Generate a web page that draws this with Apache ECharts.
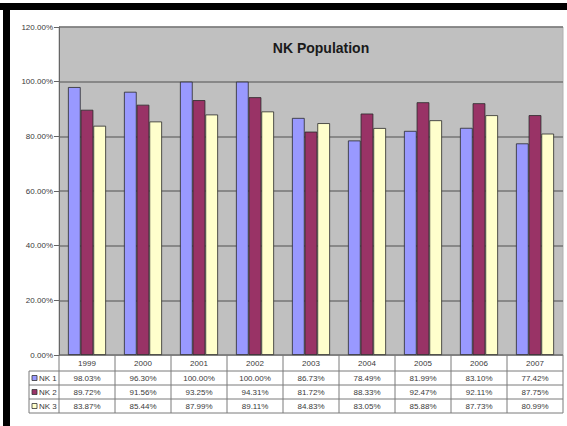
<!DOCTYPE html>
<html>
<head>
<meta charset="utf-8">
<script src="https://cdn.jsdelivr.net/npm/echarts@6/dist/echarts.min.js"></script>
<style>
  html, body { margin: 0; padding: 0; background: #fff; }
  #main { width: 567px; height: 426px; }
</style>
</head>
<body>
<div id="main"></div>
<script>
// Years along the category axis
const years = ['1999', '2000', '2001', '2002', '2003', '2004', '2005', '2006', '2007'];
// Percentages per series
const nk1 = [98.03, 96.30, 100.00, 100.00, 86.73, 78.49, 81.99, 83.10, 77.42];
const nk2 = [89.72, 91.56, 93.25, 94.31, 81.72, 88.33, 92.47, 92.11, 87.75];
const nk3 = [83.87, 85.44, 87.99, 89.11, 84.83, 83.05, 85.88, 87.73, 80.99];
const seriesNames = ['NK 1', 'NK 2', 'NK 3'];
const seriesColors = ['#9999FF', '#993366', '#FFFFCC'];
const seriesData = [nk1, nk2, nk3];

const FONT = 'Liberation Sans, Arial, sans-serif';
const GRID = { left: 59, right: 4, top: 27, bottom: 71 };
// table row boundaries (below the plot)
const ROWS = [355, 371, 385, 399, 413];
const TABLE_LEFT = 29;
const LINE = '#7a7a7a';
const TXT = '#3a3a3a';

const chart = echarts.init(document.getElementById('main'), null, { renderer: 'svg' });

const baseOption = {
  animation: false,
  backgroundColor: '#ffffff',
  title: {
    text: 'NK Population',
    left: 316,
    top: 36,
    textAlign: 'center',
    textStyle: { fontFamily: FONT, fontSize: 14, fontWeight: 'bold', color: '#1a1a1a' }
  },
  grid: Object.assign({ show: true, backgroundColor: '#C0C0C0', borderColor: '#b0b0b0', borderWidth: 1 }, GRID),
  xAxis: {
    type: 'category',
    data: years,
    axisLine: { show: false },
    axisTick: { show: false },
    axisLabel: { show: false },
    splitLine: { show: false }
  },
  yAxis: {
    type: 'value',
    min: 0,
    max: 120,
    interval: 20,
    axisLine: { show: true, lineStyle: { color: '#666', width: 1 } },
    axisTick: { show: true, length: 5, lineStyle: { color: '#666' } },
    axisLabel: {
      formatter: v => v.toFixed(2) + '%',
      fontFamily: FONT, fontSize: 8, color: TXT, margin: 6
    },
    splitLine: { show: true, lineStyle: { color: '#767676', width: 1.5 } }
  },
  series: seriesData.map((d, i) => ({
    name: seriesNames[i],
    type: 'bar',
    data: d,
    barGap: '0%',
    barCategoryGap: '32%',
    itemStyle: { color: seriesColors[i], borderColor: '#2a2a2a', borderWidth: 0.8 }
  }))
};

chart.setOption(baseOption);

// Build the data table and frame from the axis geometry
const c0 = chart.convertToPixel({ xAxisIndex: 0 }, 0);
const c1 = chart.convertToPixel({ xAxisIndex: 0 }, 1);
const band = c1 - c0;
const plotLeft = c0 - band / 2;
const plotRight = plotLeft + band * years.length;

const g = [];
// horizontal lines
g.push({ type: 'line', shape: { x1: plotLeft, y1: ROWS[0], x2: plotRight, y2: ROWS[0] }, style: { stroke: LINE, lineWidth: 1 } });
for (let r = 1; r < ROWS.length; r++) {
  g.push({ type: 'line', shape: { x1: TABLE_LEFT, y1: ROWS[r], x2: plotRight, y2: ROWS[r] }, style: { stroke: LINE, lineWidth: 1 } });
}
// vertical lines
g.push({ type: 'line', shape: { x1: TABLE_LEFT, y1: ROWS[1], x2: TABLE_LEFT, y2: ROWS[4] }, style: { stroke: LINE, lineWidth: 1 } });
for (let k = 0; k <= years.length; k++) {
  const x = plotLeft + band * k;
  g.push({ type: 'line', shape: { x1: x, y1: ROWS[0], x2: x, y2: ROWS[4] }, style: { stroke: LINE, lineWidth: 1 } });
}
// header (years)
years.forEach((y, k) => {
  g.push({ type: 'text', x: plotLeft + band * (k + 0.5), y: (ROWS[0] + ROWS[1]) / 2,
    style: { text: y, fontFamily: FONT, fontSize: 8, fill: TXT, align: 'center', verticalAlign: 'middle' } });
});
// series rows
seriesData.forEach((d, i) => {
  const yMid = (ROWS[i + 1] + ROWS[i + 2]) / 2;
  g.push({ type: 'rect', shape: { x: TABLE_LEFT + 3, y: yMid - 2.5, width: 5, height: 5 },
    style: { fill: seriesColors[i], stroke: '#333', lineWidth: 0.8 } });
  g.push({ type: 'text', x: TABLE_LEFT + 10, y: yMid,
    style: { text: seriesNames[i], fontFamily: FONT, fontSize: 8, fill: TXT, align: 'left', verticalAlign: 'middle' } });
  d.forEach((v, k) => {
    g.push({ type: 'text', x: plotLeft + band * (k + 0.5), y: yMid,
      style: { text: v.toFixed(2) + '%', fontFamily: FONT, fontSize: 8, fill: TXT, align: 'center', verticalAlign: 'middle' } });
  });
});
// black frame along top and left
g.push({ type: 'rect', shape: { x: 0, y: 3, width: 567, height: 7 }, style: { fill: '#000' } });
g.push({ type: 'rect', shape: { x: 3, y: 3, width: 7, height: 423 }, style: { fill: '#000' } });

chart.setOption({ graphic: g });
</script>
</body>
</html>
